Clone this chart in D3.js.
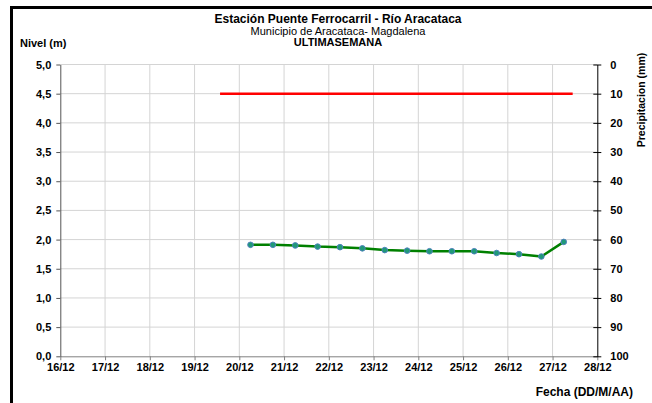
<!DOCTYPE html>
<html>
<head>
<meta charset="utf-8">
<script src="https://cdn.jsdelivr.net/npm/d3@7"></script>
<style>
  body { margin: 0; background: #fff; }
  svg { display: block; font-family: "Liberation Sans", Arial, sans-serif; }
</style>
</head>
<body>
<svg width="652" height="403"></svg>
<script>
// etiquetas del eje x (días)
const dias = ['16/12','17/12','18/12','19/12','20/12','21/12','22/12','23/12','24/12','25/12','26/12','27/12','28/12'];
const nivelTicks = [0, 0.5, 1, 1.5, 2, 2.5, 3, 3.5, 4, 4.5, 5];
const precTicks = [0, 10, 20, 30, 40, 50, 60, 70, 80, 90, 100];

// nivel del río cada 12 horas (día decimal de diciembre)
const fechas = [20.25, 20.75, 21.25, 21.75, 22.25, 22.75, 23.25, 23.75, 24.25, 24.75, 25.25, 25.75, 26.25, 26.75, 27.25];
const nivel  = [1.91, 1.91, 1.90, 1.88, 1.87, 1.85, 1.82, 1.81, 1.80, 1.80, 1.80, 1.77, 1.75, 1.71, 1.96];

// línea roja (umbral)
const umbralFechas = [19.57, 27.45];
const umbralNivel  = [4.5, 4.5];

var svg = d3.select('svg'),
    margin = {left: 60.3, right: 652 - 597.3, top: 64.5, bottom: 403 - 356.3};

var x = d3.scaleLinear().domain([16, 28]).range([margin.left, 652 - margin.right]);
var y = d3.scaleLinear().domain([0, 5]).range([403 - margin.bottom, margin.top]);
var y2 = d3.scaleLinear().domain([0, 100]).range([margin.top, 403 - margin.bottom]);

// marco negro
svg.append('rect').attr('x', 10).attr('y', 6).attr('width', 642).attr('height', 3).attr('fill', '#000');
svg.append('rect').attr('x', 10).attr('y', 6).attr('width', 3).attr('height', 397).attr('fill', '#000');

// títulos
const titles = svg.append('g').attr('text-anchor', 'middle').attr('font-size', 11);
titles.append('text').attr('x', 338).attr('y', 22.5).attr('font-size', 12).attr('font-weight', 'bold').text('Estación Puente Ferrocarril - Río Aracataca');
titles.append('text').attr('x', 338).attr('y', 35).text('Municipio de Aracataca- Magdalena');
titles.append('text').attr('x', 338).attr('y', 46).attr('font-weight', 'bold').text('ULTIMASEMANA');

svg.append('text').attr('x', 20).attr('y', 47).attr('font-size', 11).attr('font-weight', 'bold').text('Nivel (m)');

// rejilla
const grid = svg.append('g').attr('stroke', '#d4d4d4').attr('stroke-width', 1);
grid.selectAll('.gx').data(d3.range(1, dias.length - 1)).join('line')
  .attr('x1', d => x(16 + d)).attr('x2', d => x(16 + d))
  .attr('y1', y(0)).attr('y2', y(5));
grid.selectAll('.gy').data(nivelTicks.slice(1)).join('line')
  .attr('x1', x(16)).attr('x2', x(28))
  .attr('y1', d => y(d)).attr('y2', d => y(d));

// ejes
const xAxis = d3.axisBottom(x).tickValues(d3.range(16, 29)).tickFormat((d, i) => dias[i]).tickSize(4).tickSizeOuter(0);
const gx = svg.append('g').attr('transform', `translate(0,${y(0)})`).call(xAxis);
gx.select('.domain').attr('stroke', '#808080');
gx.selectAll('.tick line').attr('stroke', '#808080');
gx.selectAll('text').attr('font-size', 11).attr('font-weight', 'bold').attr('fill', '#000').attr('font-family', 'Liberation Sans, Arial').attr('dy', '0.95em').attr('y', 4);

const yAxis = d3.axisLeft(y).tickValues(nivelTicks).tickFormat(d => d3.format('.1f')(d).replace('.', ',')).tickSize(4).tickSizeOuter(0);
const gy = svg.append('g').attr('transform', `translate(${x(16)},0)`).call(yAxis);
gy.select('.domain').attr('stroke', '#555');
gy.selectAll('.tick line').attr('stroke', '#555');
gy.selectAll('text').attr('font-size', 11).attr('font-weight', 'bold').attr('fill', '#000').attr('font-family', 'Liberation Sans, Arial').attr('x', -9);

const y2Axis = d3.axisRight(y2).tickValues(precTicks).tickSize(4).tickSizeOuter(0);
const gy2 = svg.append('g').attr('transform', `translate(${x(28)},0)`).call(y2Axis);
gy2.select('.domain').attr('stroke', '#000');
gy2.selectAll('.tick line').attr('stroke', '#000').attr('x1', -4);
gy2.selectAll('text').attr('font-size', 11).attr('font-weight', 'bold').attr('fill', '#000').attr('font-family', 'Liberation Sans, Arial').attr('x', 13);

svg.append('text').attr('transform', 'translate(645,100) rotate(-90)').attr('text-anchor', 'middle')
  .attr('font-size', 10.5).attr('font-weight', 'bold').text('Precipitacion (mm)');

svg.append('text').attr('x', 633).attr('y', 396).attr('text-anchor', 'end')
  .attr('font-size', 12).attr('font-weight', 'bold').text('Fecha (DD/M/AA)');

// línea roja
const line = d3.line().x(d => x(d[0])).y(d => y(d[1]));
svg.append('path').datum(d3.zip(umbralFechas, umbralNivel))
  .attr('fill', 'none').attr('stroke', '#ff0000').attr('stroke-width', 2.5).attr('d', line);

// nivel
const serie = d3.zip(fechas, nivel);
svg.append('path').datum(serie)
  .attr('fill', 'none').attr('stroke', '#008000').attr('stroke-width', 2.5)
  .attr('stroke-linejoin', 'round').attr('d', line);
svg.selectAll('.pt').data(serie).join('circle')
  .attr('cx', d => x(d[0])).attr('cy', d => y(d[1])).attr('r', 2.8)
  .attr('fill', '#1f9a78').attr('stroke', '#4f81bd').attr('stroke-width', 1);
</script>
</body>
</html>
